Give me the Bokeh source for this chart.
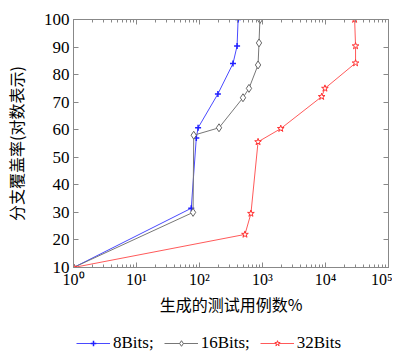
from bokeh.plotting import figure
from bokeh.layouts import column
from bokeh.models import LogAxis, LinearAxis, Legend, LegendItem, FixedTicker, Range1d, ColumnDataSource
from bokeh.embed import file_html
from bokeh.resources import INLINE

# data
x8 = [1, 74, 89, 95, 196, 340, 395, 410]
y8 = [10, 31.5, 57, 60.7, 73, 84, 90.4, 100]
x16 = [1, 79, 81, 204, 490, 610, 850, 880, 910]
y16 = [10, 30, 58, 60.7, 71.6, 75, 83.5, 91.5, 100]
x32 = [1, 527, 655, 850, 1950, 8700, 9800, 30000, 30000, 29000]
y32 = [10, 22, 29.6, 55.6, 60.4, 72, 75, 84.2, 90.4, 100]

x_ticks = [1, 10, 100, 1000, 10000, 100000]
x_tick_labels = ["10\u2070", "10\u00b9", "10\u00b2", "10\u00b3", "10\u2074", "10\u2075"]
y_ticks = [10, 20, 30, 40, 50, 60, 70, 80, 90, 100]
series_names = ["8Bits;", "16Bits;", "32Bits"]

minor = [m * d for d in [1, 10, 100, 1000, 10000] for m in range(2, 10)]

FRAME = "#888888"
SERIF = "Liberation Serif"
CJK = "Noto Sans CJK SC"
C8, C16, C32 = "#4a4aff", "#777777", "#ff5a5a"

p = figure(width=392, height=326, x_axis_type="log",
           x_range=Range1d(1, 1e5), y_range=Range1d(10, 100),
           output_backend="svg", toolbar_location=None,
           min_border_left=72, min_border_right=4, min_border_top=19, min_border_bottom=59)
p.xgrid.visible = False
p.ygrid.visible = False
p.outline_line_color = FRAME
p.background_fill_color = "white"

xa = p.xaxis[0]
xa.ticker = FixedTicker(ticks=x_ticks, minor_ticks=minor)
xa.major_label_overrides = {float(t): l for t, l in zip(x_ticks, x_tick_labels)}
xa.axis_label = "生成的测试用例数%"
xa.axis_label_text_font = CJK
xa.axis_label_text_font_style = "normal"
xa.axis_label_text_font_size = "16px"
xa.axis_label_standoff = 1
xa.major_label_text_font = SERIF
xa.major_label_text_font_size = "16px"
xa.major_label_standoff = 3

ya = p.yaxis[0]
ya.ticker = FixedTicker(ticks=y_ticks)
ya.axis_label = "分支覆盖率(对数表示)"
ya.axis_label_text_font = CJK
ya.axis_label_text_font_style = "normal"
ya.axis_label_text_font_size = "16px"
ya.axis_label_standoff = 13
ya.major_label_text_font = SERIF
ya.major_label_text_font_size = "17px"
ya.major_label_standoff = 4

for ax in [xa, ya]:
    ax.axis_line_color = FRAME
    ax.major_tick_line_color = FRAME
    ax.major_tick_in = 5
    ax.major_tick_out = 0
    ax.minor_tick_in = 3
    ax.minor_tick_out = 0
    ax.major_label_text_color = "black"
    ax.axis_label_text_color = "black"
xa.minor_tick_line_color = FRAME
ya.minor_tick_line_color = None

top = LogAxis(ticker=FixedTicker(ticks=x_ticks, minor_ticks=minor))
right = LinearAxis(ticker=FixedTicker(ticks=y_ticks))
for ax in [top, right]:
    ax.major_label_text_font_size = "2px"
    ax.major_label_text_color = None
    ax.major_label_standoff = 0
    ax.axis_line_color = FRAME
    ax.major_tick_line_color = FRAME
    ax.major_tick_in = 5
    ax.major_tick_out = 0
    ax.minor_tick_in = 3
    ax.minor_tick_out = 0
top.minor_tick_line_color = FRAME
right.minor_tick_line_color = None
p.add_layout(top, "above")
p.add_layout(right, "right")

p.line(x8, y8, line_color=C8, line_width=1)
p.scatter(x8, y8, marker="cross", size=6, line_color="#2020ff", line_width=1.5)
p.line(x16, y16, line_color=C16, line_width=1)
p.scatter(x16, y16, marker="diamond", size=8, line_color="#666666", fill_color="white")
p.line(x32, y32, line_color=C32, line_width=1)
p.scatter(x32, y32, marker="star", size=7, line_color="#ff3030", fill_color="white")

# legend strip below the chart (its renderers hold the first data point, which lies outside this strip's ranges)
lf = figure(width=392, height=26, output_backend="svg", toolbar_location=None,
            x_range=Range1d(-1000, -999), y_range=Range1d(-1000, -999),
            x_axis_location=None, y_axis_location=None,
            min_border=0, outline_line_color=None)
lf.grid.visible = False
s8 = ColumnDataSource(dict(x=x8[:1], y=y8[:1]))
s16 = ColumnDataSource(dict(x=x16[:1], y=y16[:1]))
s32 = ColumnDataSource(dict(x=x32[:1], y=y32[:1]))
r8 = [lf.line("x", "y", source=s8, line_color=C8),
      lf.scatter("x", "y", source=s8, marker="cross", size=6, line_color="#2020ff", line_width=1.5)]
r16 = [lf.line("x", "y", source=s16, line_color=C16),
       lf.scatter("x", "y", source=s16, marker="diamond", size=8, line_color="#666666", fill_color="white")]
r32 = [lf.line("x", "y", source=s32, line_color=C32),
       lf.scatter("x", "y", source=s32, marker="star", size=7, line_color="#ff3030", fill_color="white")]

legend = Legend(items=[
    LegendItem(label=series_names[0], renderers=r8),
    LegendItem(label=series_names[1], renderers=r16),
    LegendItem(label=series_names[2], renderers=r32),
], orientation="horizontal", location=(3, -1))
legend.label_text_font = SERIF
legend.label_text_font_size = "17px"
legend.label_text_color = "black"
legend.glyph_width = 34
legend.glyph_height = 14
legend.label_standoff = 3
legend.spacing = 10
legend.padding = 2
legend.margin = 0
legend.border_line_color = None
legend.background_fill_alpha = 0
lf.add_layout(legend, "center")

layout = column(p, lf, spacing=0)
open("out.html", "w").write(file_html(layout, INLINE))
